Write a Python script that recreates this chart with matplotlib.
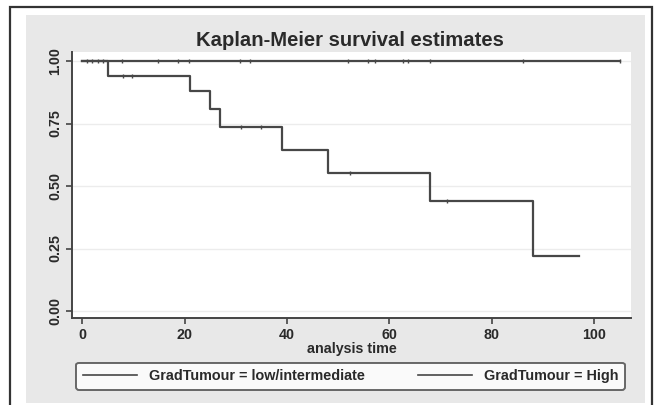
import numpy as np
import matplotlib
matplotlib.use("Agg")
import matplotlib.pyplot as plt
from matplotlib.patches import Rectangle
from matplotlib.lines import Line2D

plt.rcParams['font.family'] = ['Liberation Sans', 'DejaVu Sans']
plt.rcParams['font.weight'] = 'bold'

# Kaplan-Meier estimates
high_times = [0, 5, 21, 25, 27, 39, 48, 68, 88, 97]
high_surv = [1.0, 0.941, 0.882, 0.809, 0.735, 0.643, 0.551, 0.441, 0.221, 0.221]
high_censor = [8, 9.8, 31, 35, 52.3, 71.3]

low_times = [0, 105]
low_surv = [1.0, 1.0]
low_censor = [1, 2, 3, 4, 7.8, 14.8, 18.8, 20.9, 30.9, 32.8,
              52, 55.9, 57.2, 62.7, 63.7, 68, 86.1, 105]

x_ticks = [0, 20, 40, 60, 80, 100]
y_ticks = [0.0, 0.25, 0.5, 0.75, 1.0]
y_labels = ["0.00", "0.25", "0.50", "0.75", "1.00"]
labels = ["GradTumour = low/intermediate", "GradTumour = High"]

W, H = 655, 405
line_col = "#474747"
txt_col = "#2a2a2a"


def step_at(times, surv, t):
    idx = np.searchsorted(times, t, side="right") - 1
    return np.asarray(surv)[idx]


fig = plt.figure(figsize=(W / 100, H / 100), dpi=100)
fig.patch.set_facecolor("white")

# outer frame and gray graph region
fig.patches.append(Rectangle((10 / W, -0.02), 642 / W, (H - 7) / H + 0.02,
                             transform=fig.transFigure, facecolor="white",
                             edgecolor="#333333", linewidth=1.6, zorder=-2))
fig.patches.append(Rectangle((26 / W, 2 / H), 619 / W, (H - 15 - 2) / H,
                             transform=fig.transFigure, facecolor="#e8e8e8",
                             edgecolor="none", zorder=-1))

ax = fig.add_axes([72 / W, (H - 318) / H, (631 - 72) / W, (318 - 52) / H])
ax.set_zorder(1)
ax.set_facecolor("white")

for y in y_ticks:
    ax.axhline(y, color="#ececec", linewidth=1.0, zorder=0)

ax.step(low_times, low_surv, where="post", color=line_col, linewidth=1.6)
ax.step(high_times, high_surv, where="post", color=line_col, linewidth=1.6)

ax.plot(low_censor, [1.0] * len(low_censor), linestyle="none", marker="|",
        markersize=3, color=line_col, markeredgewidth=1.0)
ax.plot(high_censor, step_at(high_times, high_surv, high_censor), linestyle="none",
        marker="|", markersize=3, color=line_col, markeredgewidth=1.0)

ax.set_xlim(-2, 107.2)
ax.set_ylim(-0.028, 1.036)
ax.set_xticks(x_ticks)
ax.set_yticks(y_ticks)
ax.set_yticklabels(y_labels, rotation=90, va="center")
for s in ["top", "right"]:
    ax.spines[s].set_visible(False)
for s in ["left", "bottom"]:
    ax.spines[s].set_color("#444444")
    ax.spines[s].set_linewidth(1.4)
ax.tick_params(direction="out", length=4, width=1.2, color="#444444",
               labelsize=10.3, labelcolor=txt_col, pad=3)

ax.set_xlabel("analysis time", fontsize=10.3, fontweight="bold",
              color=txt_col, labelpad=0)
fig.text(350 / W, 1 - 40 / H, "Kaplan-Meier survival estimates", ha="center",
         va="center", fontsize=14.6, color=txt_col)

handles = [Line2D([], [], color=line_col, linewidth=1.2) for _ in labels]
leg = fig.legend(handles, labels, loc="center", ncol=2, mode="expand",
                 bbox_to_anchor=(76 / W, 1 - 389 / H, 549 / W, 26 / H),
                 fontsize=10.4, frameon=True, fancybox=True, handlelength=3.8,
                 borderaxespad=0, borderpad=0.45, handletextpad=0.8)
leg.get_frame().set_edgecolor("#444444")
leg.get_frame().set_linewidth(1.4)
leg.get_frame().set_facecolor("white")
for t in leg.get_texts():
    t.set_color(txt_col)

fig.savefig("out.png", dpi=100)
